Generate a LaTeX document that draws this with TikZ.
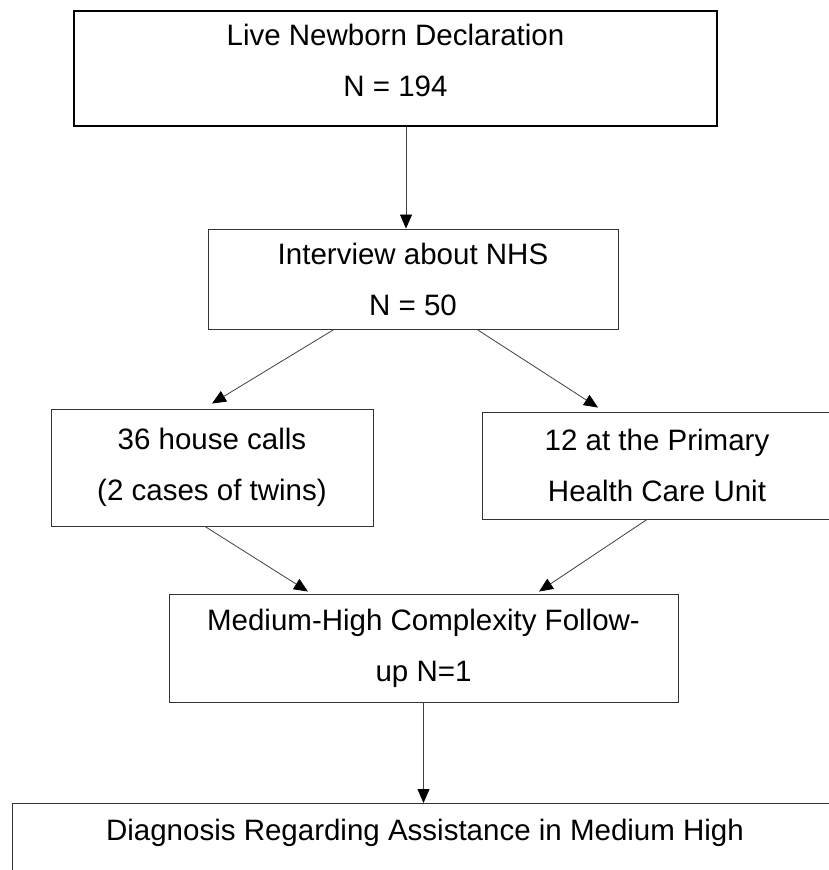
\documentclass[tikz,border=0pt]{standalone}
\usepackage{fontspec}
\setmainfont{Liberation Sans}
\usepackage{xcolor}
\usetikzlibrary{positioning, arrows.meta}

\begin{document}
\begin{tikzpicture}[x=1pt,y=-1pt]
	\tikzstyle{box}=[draw=black!80,line width=0.9pt,align=center,inner sep=0pt,font=\fontsize{29.5}{51}\selectfont]
	\tikzstyle{flow}=[draw=black!75,line width=0.8pt,-{Triangle[length=14pt,width=12pt,color=black]}]
	\useasboundingbox (0,0) rectangle (829,870);
	\clip (0,0) rectangle (829,870);
	\node[box,line width=1.8pt,draw=black,minimum width=643pt,minimum height=115pt,text depth=16pt](decl) at (395.5,68.5) {Live Newborn Declaration\\N = 194};
	\node[box,minimum width=410pt,minimum height=100pt](nhs) at (413,279) {Interview about NHS\\N = 50};
	\node[box,minimum width=322pt,minimum height=117pt](house) at (212,467.5) {36 house calls\\(2 cases of twins)};
	\node[box,minimum width=350pt,minimum height=107pt](phcu) at (657,465.5) {12 at the Primary\\Health Care Unit};
	\node[box,minimum width=509pt,minimum height=108pt](follow) at (423.5,648) {Medium-High Complexity Follow-\\up N=1};
	\node[box,anchor=north,minimum width=826pt,text height=21pt,text depth=80pt,inner ysep=16pt](diag) at (425,803) {Diagnosis Regarding Assistance in Medium High};
	\path
		([xshift=10.5pt]decl.south) edge[flow] ([xshift=-7pt]nhs.north)
		([xshift=-79pt]nhs.south) edge[flow] ([yshift=5pt]house.north)
		([xshift=64pt]nhs.south) edge[flow] ([xshift=-59pt,yshift=4pt]phcu.north)
		([xshift=-7pt]house.south) edge[flow] ([xshift=-115.5pt,yshift=2pt]follow.north)
		([xshift=-10pt]phcu.south) edge[flow] ([xshift=115.5pt,yshift=2pt]follow.north)
		(follow.south) edge[flow] ([xshift=-1.5pt]diag.north);
\end{tikzpicture}
\end{document}
